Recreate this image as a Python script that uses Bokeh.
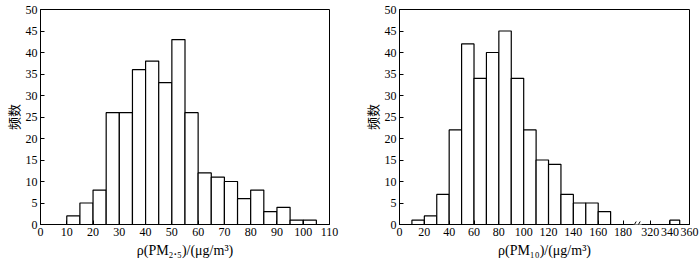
from bokeh.plotting import figure
from bokeh.layouts import row
from bokeh.models import FixedTicker, Arrow, AllLabels
from bokeh.embed import file_html
from bokeh.resources import INLINE

# ---------------- data ----------------
pm25_bin_left = [10, 15, 20, 25, 30, 35, 40, 45, 50, 55, 60, 65, 70, 75, 80, 85, 90, 95, 100]
pm25_counts = [2, 5, 8, 26, 26, 36, 38, 33, 43, 26, 12, 11, 10, 6, 8, 3, 4, 1, 1]
pm25_bin_width = 5

pm10_bin_left = [10, 20, 30, 40, 50, 60, 70, 80, 90, 100, 110, 120, 130, 140, 150, 160, 340]
pm10_counts = [1, 2, 7, 22, 42, 34, 40, 45, 34, 22, 15, 14, 7, 5, 5, 3, 1]
pm10_bin_width = 10

y_ticks = [0, 5, 10, 15, 20, 25, 30, 35, 40, 45, 50]
pm25_x_ticks = [0, 10, 20, 30, 40, 50, 60, 70, 80, 90, 100, 110]
pm10_x_ticks = [0, 20, 40, 60, 80, 100, 120, 140, 160, 180, 320, 340, 360]

y_label = "频数"
pm25_x_label = "ρ(PM₂.₅)/(μg/m³)"
pm10_x_label = "ρ(PM₁₀)/(μg/m³)"

# ---------------- layout constants ----------------
W, H = 350, 263
FRAME_W, FRAME_H = 290, 215
TOP, BOTTOM = 9, 39
SERIF = "Liberation Serif"
CJK = "Noto Sans CJK SC"
TICK_FS = 12

# broken axis for PM10: values >= 320 are compressed behind a break
BREAK_VALUE = 320
BREAK_POS = 202.0
POST_SCALE = 0.7875


def pm10_pos(v):
    if v >= BREAK_VALUE:
        return BREAK_POS + (v - BREAK_VALUE) * POST_SCALE
    return float(v)


def style_axes(p, xlabel):
    p.outline_line_color = "black"
    p.outline_line_width = 1
    p.xgrid.visible = False
    p.ygrid.visible = False
    p.background_fill_color = "white"
    p.border_fill_color = "white"
    for ax in (p.xaxis[0], p.yaxis[0]):
        ax.axis_line_color = "black"
        ax.axis_line_width = 1
        ax.major_tick_in = 4
        ax.major_tick_out = 0
        ax.minor_tick_line_color = None
        ax.major_tick_line_color = "black"
        ax.major_label_text_font = SERIF
        ax.major_label_text_font_size = f"{TICK_FS}px"
        ax.major_label_text_color = "black"
        ax.major_label_policy = AllLabels()
        ax.axis_label_text_color = "black"
        ax.axis_label_text_font_style = "normal"
    xa, ya = p.xaxis[0], p.yaxis[0]
    xa.major_label_standoff = 3
    ya.major_label_standoff = 3
    ya.ticker = FixedTicker(ticks=y_ticks)
    ya.axis_label = y_label
    ya.axis_label_text_font = CJK
    ya.axis_label_text_font_size = "13px"
    ya.axis_label_standoff = 0
    xa.axis_label = xlabel
    xa.axis_label_text_font = SERIF
    xa.axis_label_text_font_size = "14px"
    xa.axis_label_standoff = 4


def make_fig(left_border, x_end, xlabel):
    p = figure(width=W, height=H, x_range=(0, x_end), y_range=(0, 50),
               output_backend="svg", toolbar_location=None,
               min_border_left=left_border, min_border_right=W - FRAME_W - left_border,
               min_border_top=TOP, min_border_bottom=BOTTOM)
    style_axes(p, xlabel)
    return p


px_per_y = FRAME_H / 50.0

# ---------------- PM2.5 ----------------
p1 = make_fig(39, 110, pm25_x_label)
l1 = pm25_bin_left
r1 = [v + pm25_bin_width for v in pm25_bin_left]
p1.quad(left=l1, right=r1, bottom=0, top=pm25_counts, fill_color="white",
        line_color="black", line_width=1.2)
p1.xaxis[0].ticker = FixedTicker(ticks=pm25_x_ticks)

# ---------------- PM10 ----------------
x_end2 = pm10_pos(pm10_x_ticks[-1]) + 0.01
p2 = make_fig(49, x_end2, pm10_x_label)
l2 = [pm10_pos(v) for v in pm10_bin_left]
r2 = [pm10_pos(v + pm10_bin_width) for v in pm10_bin_left]
p2.quad(left=l2, right=r2, bottom=0, top=pm10_counts, fill_color="white",
        line_color="black", line_width=1.2)
tick_pos = [pm10_pos(v) for v in pm10_x_ticks]
p2.xaxis[0].ticker = FixedTicker(ticks=tick_pos)
p2.xaxis[0].major_label_overrides = {tp: str(v) for tp, v in zip(tick_pos, pm10_x_ticks)}
s2 = FRAME_W / x_end2

# axis break marks
gap_a = (633.5 - 399.3) / s2
gap_b = (641.5 - 399.3) / s2
p2.add_layout(Arrow(end=None, x_start=gap_a, y_start=0, x_end=gap_b, y_end=0,
                    line_color="white", line_width=3, level="overlay"))
dy = 3 / px_per_y
for sx in (632.5, 636.5):
    xa = (sx - 399.3) / s2
    xb = (sx + 3.5 - 399.3) / s2
    p2.add_layout(Arrow(end=None, x_start=xa, y_start=-dy, x_end=xb, y_end=dy,
                        line_color="black", line_width=1, level="overlay"))

layout = row(p1, p2)
open("out.html", "w").write(file_html(layout, INLINE))
